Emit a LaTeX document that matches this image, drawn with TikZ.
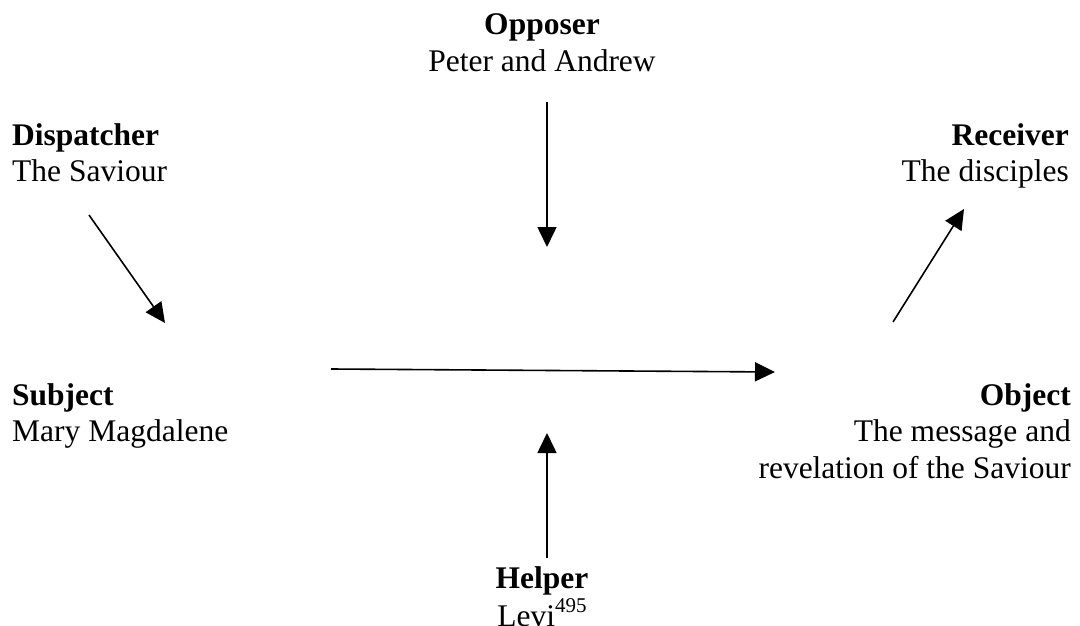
\documentclass[tikz,border=0pt]{standalone}
\usepackage{fontspec}
\setmainfont{Liberation Serif}
\usetikzlibrary{arrows.meta}
\tikzset{
  lbl/.style={inner sep=0pt, font=\fontsize{31.5}{36.8}\selectfont},
  arr/.style={line width=1.6pt, -{Triangle[length=20pt,width=19pt]}}
}
\newcommand{\lft}[1]{\begin{tabular}[t]{@{}l@{}}#1\end{tabular}}
\newcommand{\rgt}[1]{\begin{tabular}[t]{@{}r@{}}#1\end{tabular}}
\newcommand{\ctr}[1]{\begin{tabular}[t]{@{}c@{}}#1\end{tabular}}
\newcommand{\supnum}[1]{\raisebox{14pt}{\fontsize{21}{21}\selectfont #1}}
\begin{document}
\begin{tikzpicture}[x=1pt,y=-1pt]
\useasboundingbox (0,0) rectangle (1080,626);
% labels
\node[lbl, anchor=base] (opp) at (542,35) {\ctr{\textbf{Opposer}\\Peter and Andrew}};
\node[lbl, anchor=base west] (disp) at (12,145) {\lft{\textbf{Dispatcher}\\The Saviour}};
\node[lbl, anchor=base east] (recv) at (1069,145) {\rgt{\textbf{Receiver}\\The disciples}};
\node[lbl, anchor=base west] (subj) at (12,405) {\lft{\textbf{Subject}\\Mary Magdalene}};
\node[lbl, anchor=base east] (obj) at (1071,405) {\rgt{\textbf{Object}\\The message and\\revelation of the Saviour}};
\node[lbl, anchor=base] (help) at (542,588) {\ctr{\textbf{Helper}\\Levi\supnum{495}}};
% arrow end points
\coordinate (d1) at (89,215);   \coordinate (d2) at (165,323);
\coordinate (o1) at (547,102);  \coordinate (o2) at (547,247);
\coordinate (s1) at (331,369);  \coordinate (s2) at (775,372);
\coordinate (h1) at (547,558);  \coordinate (h2) at (547,433);
\coordinate (r1) at (893,322);  \coordinate (r2) at (964,209);
% arrows
\draw[arr] (d1) -- (d2);
\draw[arr] (o1) -- (o2);
\draw[arr] (s1) -- (s2);
\draw[arr] (h1) -- (h2);
\draw[arr] (r1) -- (r2);
\end{tikzpicture}
\end{document}
